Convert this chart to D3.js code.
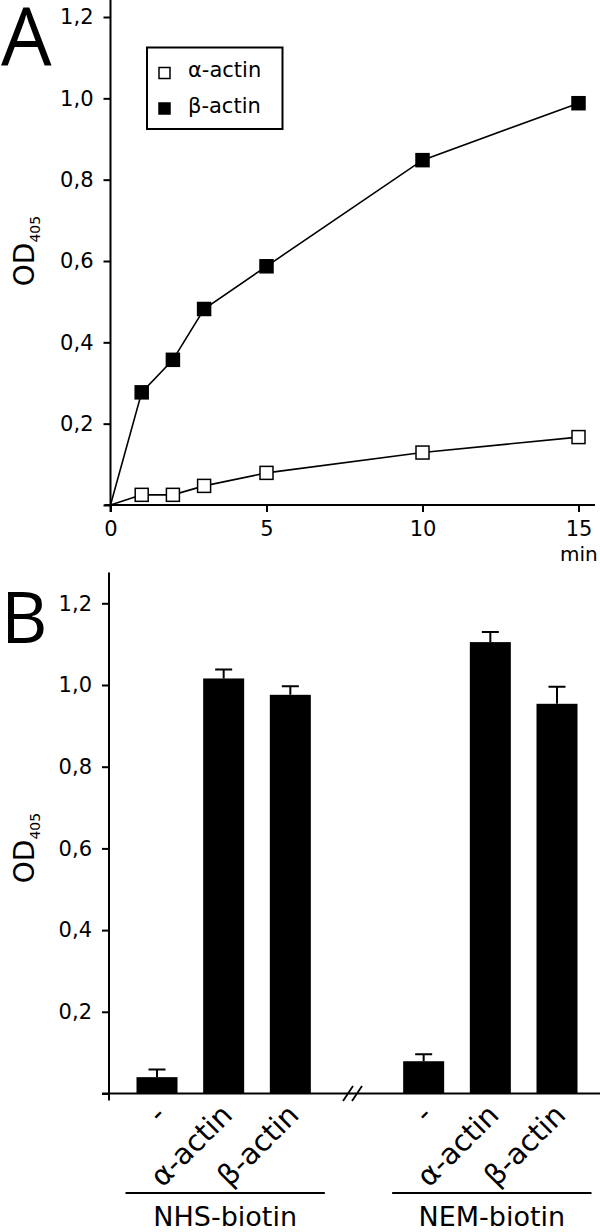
<!DOCTYPE html>
<html>
<head>
<meta charset="utf-8">
<script src="https://cdn.jsdelivr.net/npm/d3@7"></script>
<style>
  body { margin: 0; background: #fff; }
  svg text { font-family: "DejaVu Sans", sans-serif; fill: #000; }
</style>
</head>
<body>
<svg id="chart" width="600" height="1232"></svg>
<script>
// panel A: time course
let times = [0, 1, 2, 3, 5, 10, 15];
let alphaOD = [0, 0.025, 0.025, 0.047, 0.079, 0.129, 0.167];
let betaOD = [0, 0.277, 0.357, 0.482, 0.587, 0.848, 0.988];
let xTicksA = [0, 5, 10, 15];
let yTicks = [0, 0.2, 0.4, 0.6, 0.8, 1.0, 1.2];

// panel B: bars
let barLabels = ["-", "α-actin", "β-actin"];
let groups = ["NHS-biotin", "NEM-biotin"];
let nhsMeans = [0.04, 1.016, 0.976];
let nhsErr = [0.019, 0.022, 0.021];
let nemMeans = [0.079, 1.105, 0.954];
let nemErr = [0.017, 0.025, 0.042];

let svg = d3.select("#chart");
let fmt = function (d) {
  return d === 0 ? "" : d3.format(".1f")(d).replace(".", ",");
};

// ---------- A ----------
let xA = d3.scaleLinear().domain([0, 15]).range([110.5, 578.5]);
let yA = d3.scaleLinear().domain([0, 1.2]).range([505, 17]);

svg.append("text").attr("x", 1).attr("y", 65)
  .style("font-family", "'Open Sans', sans-serif")
  .style("font-size", "80px").text("A");

let gA = svg.append("g");
let yAxisA = gA.append("g").attr("transform", "translate(" + xA(0) + ",0)")
  .call(d3.axisLeft(yA).tickValues(yTicks).tickFormat(fmt).tickSize(7).tickPadding(10));
let xAxisA = gA.append("g").attr("transform", "translate(0," + yA(0) + ")")
  .call(d3.axisBottom(xA).tickValues(xTicksA).tickSize(7).tickPadding(9));
[yAxisA, xAxisA].forEach(function (a) {
  a.select(".domain").remove();
  a.selectAll("line").attr("stroke-width", 2);
  a.selectAll("text").style("font-size", "21px").style("font-family", "'DejaVu Sans', sans-serif");
});
gA.append("line").attr("x1", xA(0)).attr("x2", xA(0)).attr("y1", 0).attr("y2", yA(0) + 7)
  .attr("stroke", "#000").attr("stroke-width", 2);
gA.append("line").attr("x1", xA(0) - 6).attr("x2", 595).attr("y1", yA(0)).attr("y2", yA(0))
  .attr("stroke", "#000").attr("stroke-width", 2);
gA.append("text").attr("x", 560).attr("y", 561).style("font-size", "20px").text("min");

let line = d3.line().x(function (d) { return xA(d[0]); }).y(function (d) { return yA(d[1]); });
let series = [
  { vals: alphaOD, fill: "#fff" },
  { vals: betaOD, fill: "#000" }
];
series.forEach(function (s) {
  let pts = times.map(function (t, i) { return [t, s.vals[i]]; });
  gA.append("path").attr("d", line(pts)).attr("fill", "none")
    .attr("stroke", "#000").attr("stroke-width", 1.6);
  gA.selectAll(null).data(pts.filter(function (p) { return p[0] > 0; })).enter()
    .append("rect")
    .attr("x", function (d) { return xA(d[0]) - 6.5; })
    .attr("y", function (d) { return yA(d[1]) - 6.5; })
    .attr("width", 13).attr("height", 13)
    .attr("fill", s.fill).attr("stroke", "#000").attr("stroke-width", 1.5);
});

// legend
let leg = svg.append("g");
leg.append("rect").attr("x", 147).attr("y", 47.5).attr("width", 135.5).attr("height", 81.5)
  .attr("fill", "#fff").attr("stroke", "#000").attr("stroke-width", 2);
["α-actin", "β-actin"].forEach(function (t, i) {
  leg.append("rect").attr("x", 159).attr("y", 67.5 + i * 35.5).attr("width", 11).attr("height", 11)
    .attr("fill", series[i].fill).attr("stroke", "#000").attr("stroke-width", 1.5);
  leg.append("text").attr("x", 188).attr("y", 77 + i * 35.5).style("font-size", "21px").text(t);
});

// y label
function odLabel(cx, cy) {
  let t = svg.append("text")
    .attr("transform", "translate(" + cx + "," + cy + ") rotate(-90)")
    .attr("text-anchor", "middle").style("font-size", "28px");
  t.append("tspan").text("OD");
  t.append("tspan").attr("dy", 6).style("font-size", "14px").text("405");
}
odLabel(34, 251);

// ---------- B ----------
let yB = d3.scaleLinear().domain([0, 1.2]).range([1093.5, 603.3]);
let slots = ["n0", "n1", "n2", "gap", "m0", "m1", "m2"];
let xB = d3.scalePoint().domain(slots).range([157, 557]);
let barW = 41;

svg.append("text").attr("x", 1).attr("y", 643)
  .style("font-family", "'Open Sans', sans-serif")
  .style("font-size", "72px").text("B");

let gB = svg.append("g");
let yAxisB = gB.append("g").attr("transform", "translate(109,0)")
  .call(d3.axisLeft(yB).tickValues(yTicks).tickFormat(fmt).tickSize(7).tickPadding(10));
yAxisB.select(".domain").remove();
yAxisB.selectAll("line").attr("stroke-width", 2);
yAxisB.selectAll("text").style("font-size", "21px").style("font-family", "'DejaVu Sans', sans-serif");
gB.append("line").attr("x1", 109).attr("x2", 109).attr("y1", 572.5).attr("y2", yB(0) + 7)
  .attr("stroke", "#000").attr("stroke-width", 2);
gB.append("line").attr("x1", 102).attr("x2", 600).attr("y1", yB(0)).attr("y2", yB(0))
  .attr("stroke", "#000").attr("stroke-width", 2);

// axis break
let bx = (xB("n2") + xB("m0")) / 2 - 4.5;
[-4.5, 4.5].forEach(function (o) {
  gB.append("line").attr("x1", bx + o - 5).attr("x2", bx + o + 5)
    .attr("y1", yB(0) + 7.5).attr("y2", yB(0) - 7.5)
    .attr("stroke", "#000").attr("stroke-width", 1.8);
});

let bars = [];
barLabels.forEach(function (l, i) {
  bars.push({ slot: "n" + i, label: l, v: nhsMeans[i], e: nhsErr[i] });
});
barLabels.forEach(function (l, i) {
  bars.push({ slot: "m" + i, label: l, v: nemMeans[i], e: nemErr[i] });
});

gB.selectAll(".bar").data(bars).enter().append("rect").attr("class", "bar")
  .attr("x", function (d) { return xB(d.slot) - barW / 2; })
  .attr("y", function (d) { return yB(d.v); })
  .attr("width", barW)
  .attr("height", function (d) { return yB(0) - yB(d.v); })
  .attr("fill", "#000");

gB.selectAll(".err").data(bars).enter().append("path").attr("class", "err")
  .attr("d", function (d) {
    let cx = xB(d.slot), top = yB(d.v + d.e);
    return "M" + cx + "," + yB(d.v) + "V" + top + "M" + (cx - 8.5) + "," + top + "H" + (cx + 8.5);
  })
  .attr("stroke", "#000").attr("stroke-width", 2).attr("fill", "none");

gB.selectAll(".xl").data(bars).enter().append("text").attr("class", "xl")
  .attr("transform", function (d) {
    return "translate(" + (xB(d.slot) - 1) + "," + (yB(0) + 12) + ") rotate(-45)";
  })
  .attr("text-anchor", "end").attr("dy", "0.55em")
  .style("font-size", "29px").text(function (d) { return d.label; });

// group lines
groups.forEach(function (g, i) {
  let a = xB(i === 0 ? "n0" : "m0") - 31.5, b = xB(i === 0 ? "n2" : "m2") + 34.5;
  gB.append("line").attr("x1", a).attr("x2", b).attr("y1", 1193).attr("y2", 1193)
    .attr("stroke", "#000").attr("stroke-width", 2);
  gB.append("text").attr("x", (a + b) / 2).attr("y", 1226).attr("text-anchor", "middle")
    .style("font-size", "27px").text(g);
});

odLabel(34, 848);
</script>
</body>
</html>
